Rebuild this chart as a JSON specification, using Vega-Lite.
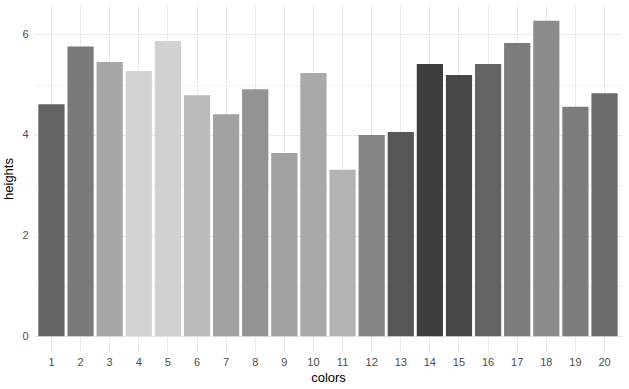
{
  "$schema": "https://vega.github.io/schema/vega-lite/v6.json",
  "width": 588,
  "height": 347,
  "autosize": {"type": "none"},
  "padding": {"left": 34, "top": 5, "right": 7, "bottom": 37},
  "background": "white",
  "config": {
    "view": {"stroke": null},
    "font": "Liberation Sans"
  },
  "data": {
    "values": [
      {"colors": "1", "heights": 4.61},
      {"colors": "2", "heights": 5.76},
      {"colors": "3", "heights": 5.45},
      {"colors": "4", "heights": 5.27},
      {"colors": "5", "heights": 5.87},
      {"colors": "6", "heights": 4.79},
      {"colors": "7", "heights": 4.41},
      {"colors": "8", "heights": 4.91},
      {"colors": "9", "heights": 3.64},
      {"colors": "10", "heights": 5.23},
      {"colors": "11", "heights": 3.31},
      {"colors": "12", "heights": 4.00},
      {"colors": "13", "heights": 4.06},
      {"colors": "14", "heights": 5.41},
      {"colors": "15", "heights": 5.19},
      {"colors": "16", "heights": 5.41},
      {"colors": "17", "heights": 5.83},
      {"colors": "18", "heights": 6.27},
      {"colors": "19", "heights": 4.56},
      {"colors": "20", "heights": 4.83}
    ]
  },
  "mark": {"type": "bar"},
  "encoding": {
    "x": {
      "field": "colors",
      "type": "ordinal",
      "sort": null,
      "scale": {"paddingInner": 0.1, "paddingOuter": 0.15},
      "axis": {
        "title": "colors",
        "labelAngle": 0,
        "labelFontSize": 11,
        "labelColor": "#4d4d4d",
        "labelPadding": 4,
        "ticks": false,
        "domain": false,
        "grid": true,
        "gridColor": "#ebebeb",
        "gridWidth": 1,
        "bandPosition": 0.5,
        "titleFontSize": 13,
        "titleFontWeight": "normal",
        "titleColor": "#000000",
        "titlePadding": 4
      }
    },
    "y": {
      "field": "heights",
      "type": "quantitative",
      "scale": {"domain": [-0.3135, 6.5835], "nice": false, "zero": false},
      "axis": {
        "title": "heights",
        "values": [0, 1, 2, 3, 4, 5, 6],
        "labelExpr": "datum.value % 2 === 0 ? datum.label : ''",
        "labelFontSize": 11,
        "labelColor": "#4d4d4d",
        "labelPadding": 6,
        "ticks": false,
        "domain": false,
        "grid": true,
        "gridColor": "#ebebeb",
        "gridWidth": {"condition": {"test": "datum.value % 2 === 0", "value": 1.1}, "value": 0.6},
        "titleFontSize": 13,
        "titleFontWeight": "normal",
        "titleColor": "#000000",
        "titlePadding": 6
      }
    },
    "color": {
      "field": "colors",
      "type": "ordinal",
      "sort": null,
      "legend": null,
      "scale": {
        "domain": ["1","2","3","4","5","6","7","8","9","10","11","12","13","14","15","16","17","18","19","20"],
        "range": ["#636363","#7a7a7a","#a6a6a6","#d4d4d4","#d1d1d1","#bababa","#a1a1a1","#939393","#a1a1a1","#a9a9a9","#b3b3b3","#858585","#575757","#3d3d3d","#474747","#636363","#7c7c7c","#8c8c8c","#7c7c7c","#6b6b6b"]
      }
    }
  }
}
